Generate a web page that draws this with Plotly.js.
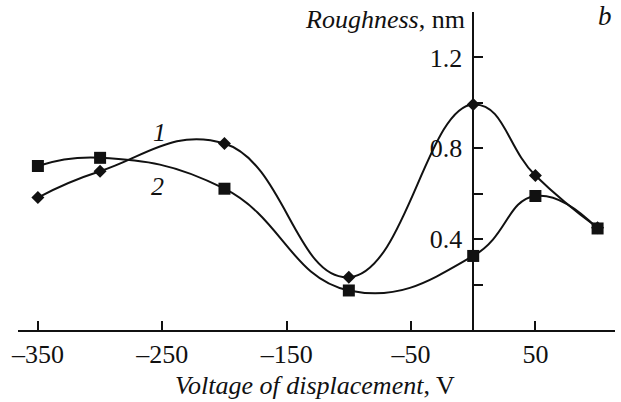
<!DOCTYPE html>
<html>
<head>
<meta charset="utf-8">
<script src="https://cdn.plot.ly/plotly-3.0.1.min.js"></script>
<style>html,body{margin:0;padding:0;background:#fff;}</style>
</head>
<body>
<div id="chart"></div>
<script>
// Data
const voltage = [-350, -300, -200, -100, 0, 50, 100];
const roughness1 = [0.583, 0.699, 0.821, 0.232, 0.993, 0.680, 0.450];
const roughness2 = [0.722, 0.758, 0.622, 0.174, 0.326, 0.590, 0.447];
const xTickVals = [-350, -250, -150, -50, 50];
const xTickText = ['\u2013350', '\u2013250', '\u2013150', '\u201350', '50'];
const yTickVals = [0.2, 0.4, 0.6, 0.8, 1.0, 1.2];
const yTickText = ['', '0.4', '', '0.8', '', '1.2'];

const FONT = 'Liberation Serif';
const FS = 26;
const xRange = [-366, 114];
const yAxisPos = (0 - xRange[0]) / (xRange[1] - xRange[0]);

const traces = [
  {
    x: voltage, y: roughness1, type: 'scatter', mode: 'lines+markers',
    line: {shape: 'spline', smoothing: 1.3, color: '#111', width: 2},
    marker: {symbol: 'diamond', size: 10, color: '#111'},
    cliponaxis: false, showlegend: false
  },
  {
    x: voltage, y: roughness2, type: 'scatter', mode: 'lines+markers',
    line: {shape: 'spline', smoothing: 1.3, color: '#111', width: 2},
    marker: {symbol: 'square', size: 12, color: '#111'},
    cliponaxis: false, showlegend: false
  }
];

const layout = {
  width: 621, height: 402,
  margin: {l: 18, r: 6, t: 12, b: 72},
  paper_bgcolor: '#fff', plot_bgcolor: '#fff',
  font: {family: FONT, size: FS, color: '#111'},
  xaxis: {
    range: xRange, showgrid: false, zeroline: false,
    showline: true, linecolor: '#111', linewidth: 2,
    ticks: 'inside', ticklen: 9, tickwidth: 1.5, tickcolor: '#111',
    tickmode: 'array', tickvals: xTickVals, ticktext: xTickText,
    tickfont: {family: FONT, size: FS, color: '#111'}
  },
  yaxis: {
    range: [0, 1.4], showgrid: false, zeroline: false,
    anchor: 'free', position: yAxisPos,
    showline: true, linecolor: '#111', linewidth: 1.5,
    ticks: 'inside', ticklen: 9, tickwidth: 1.5, tickcolor: '#111',
    ticklabelstandoff: 5,
    tickmode: 'array', tickvals: yTickVals, ticktext: yTickText,
    tickfont: {family: FONT, size: FS, color: '#111'}
  },
  annotations: [
    {xref: 'paper', yref: 'paper', x: 0.497, y: -0.175, xanchor: 'center', yanchor: 'middle',
     text: '<i>Voltage of displacement</i>, V', showarrow: false, font: {family: FONT, size: FS, color: '#111'}},
    {xref: 'paper', yref: 'paper', x: 0.752, y: 0.975, xanchor: 'right', yanchor: 'middle',
     text: '<i>Roughness</i>, nm', showarrow: false, font: {family: FONT, size: FS, color: '#111'}},
    {xref: 'paper', yref: 'paper', x: 0.983, y: 0.987, xanchor: 'center', yanchor: 'middle',
     text: '<i>b</i>', showarrow: false, font: {family: FONT, size: 27, color: '#111'}},
    {xref: 'x', yref: 'y', x: -252, y: 0.87, xanchor: 'center', yanchor: 'middle',
     text: '<i>1</i>', showarrow: false, font: {family: FONT, size: FS, color: '#111'}},
    {xref: 'x', yref: 'y', x: -254, y: 0.63, xanchor: 'center', yanchor: 'middle',
     text: '<i>2</i>', showarrow: false, font: {family: FONT, size: FS, color: '#111'}}
  ]
};

Plotly.newPlot('chart', traces, layout, {displayModeBar: false});
</script>
</body>
</html>
